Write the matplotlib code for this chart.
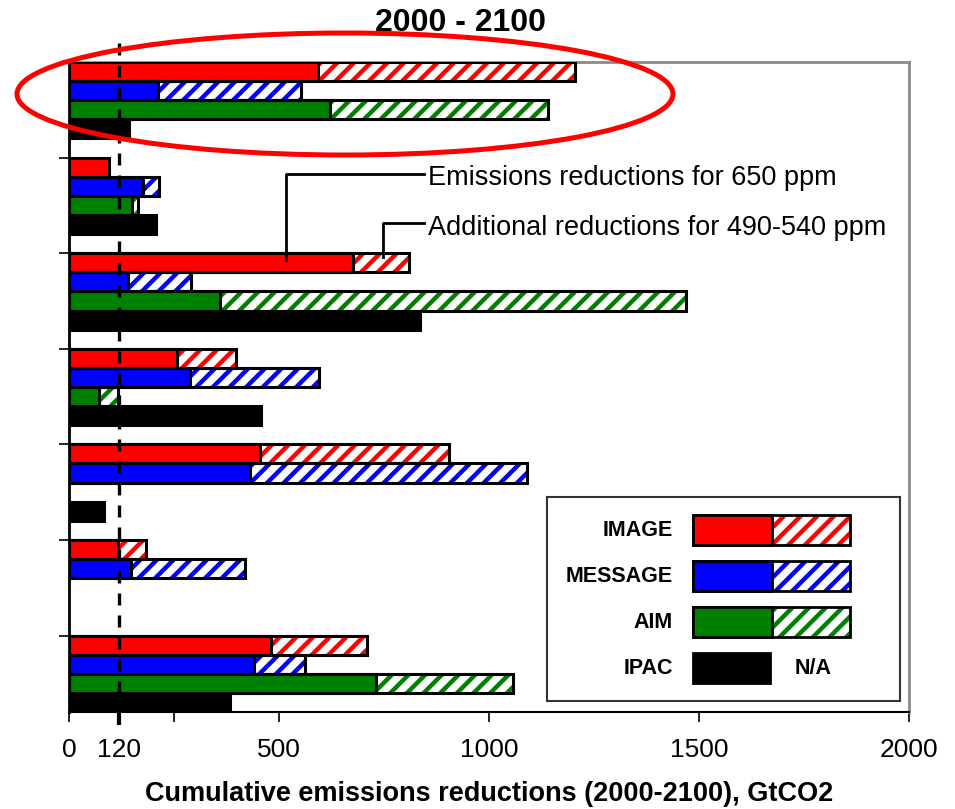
import numpy as np
import matplotlib
matplotlib.use("Agg")
import matplotlib.pyplot as plt
from matplotlib.patches import Rectangle, Ellipse
from matplotlib.transforms import Affine2D

plt.rcParams['font.family'] = ['Liberation Sans', 'DejaVu Sans']
plt.rcParams['hatch.linewidth'] = 3.2

# Cumulative emissions reductions 2000-2100 (GtCO2), seven cases, top to bottom.
# *_650: reductions for 650 ppm; *_add: additional reductions for 490-540 ppm.
nan = np.nan
image_650 = [593, 95, 677, 258, 454, 117, 482]
image_add = [612, 0, 133, 140, 451, 67, 227]
message_650 = [212, 177, 140, 287, 431, 148, 441]
message_add = [340, 38, 150, 308, 659, 271, 122]
aim_650 = [621, 149, 360, 71, nan, nan, 730]
aim_add = [519, 16, 1109, 46, nan, nan, 328]
ipac_650 = [143, 207, 836, 457, 83, nan, 384]

models = ["IMAGE", "MESSAGE", "AIM", "IPAC"]
colors = ["#ff0000", "#0000ff", "#008000", "#000000"]
reference_level = 120

xticks = [0, 120, 250, 500, 1000, 1500, 2000]
xticklabels = ["0", "120", "", "500", "1000", "1500", "2000"]

W, H = 955, 809
fig = plt.figure(figsize=(W / 100, H / 100), dpi=100)
ax = fig.add_axes([69 / W, (H - 712) / H, 840 / W, 650 / H])

n_groups = len(image_650)
slots = 5
series = [(image_650, image_add), (message_650, message_add),
          (aim_650, aim_add), (ipac_650, None)]

for m, (base, add) in enumerate(series):
    for g in range(n_groups):
        b = base[g]
        if b is None or np.isnan(b):
            continue
        y = slots * g + m + 0.5
        a = 0.0 if add is None else add[g]
        if a and not np.isnan(a) and a > 0:
            ax.barh(y, a, left=b, height=1.0, color="white",
                    edgecolor=colors[m], hatch="//", linewidth=0, zorder=2)
            ax.barh(y, b + a, height=1.0, fill=False, edgecolor="black",
                    linewidth=2.2, zorder=4)
        ax.barh(y, b, height=1.0, color=colors[m], edgecolor="black",
                linewidth=2.2, zorder=3)

ax.set_xlim(0, 2000)
ax.set_ylim(slots * (n_groups - 1) + 4, 0)

# 120 GtCO2 reference line
ax.plot([reference_level, reference_level], [-1.0, slots * (n_groups - 1) + 4],
        color="black", linewidth=2.4, linestyle=(0, (3.6, 3.0)),
        clip_on=False, zorder=6)

ax.set_xticks(xticks)
ax.set_xticklabels(xticklabels, fontsize=19)
ax.tick_params(axis="x", direction="out", length=7.5, width=1.2, pad=11)
ax.set_yticks([slots * g for g in range(1, n_groups)])
ax.set_yticklabels([])
ax.tick_params(axis="y", direction="out", length=7.5, width=1.2)
t120 = ax.xaxis.get_major_ticks()[1]
t120.tick1line.set_markeredgewidth(3)
t120.tick1line.set_markersize(9.5)

for side in ["top", "right"]:
    ax.spines[side].set_color("#8a8a8a")
    ax.spines[side].set_linewidth(2)
ax.spines["left"].set_linewidth(2)
ax.spines["bottom"].set_linewidth(1.5)

ax.set_xlabel("Cumulative emissions reductions (2000-2100), GtCO2",
              fontsize=19.5, fontweight="bold", labelpad=14)
fig.text(460 / W, 1 - 23 / H, "2000 - 2100", fontsize=23, fontweight="bold",
         ha="center", va="center")

# leader lines to the explanatory notes
ax.plot([845, 517, 517], [5.86, 5.86, 10.36], color="black", lw=2,
        clip_on=False, zorder=7)
ax.plot([845, 748, 748], [8.4, 8.4, 10.2], color="black", lw=2,
        clip_on=False, zorder=7)
ax.text(855, 6.43, "Emissions reductions for 650 ppm", fontsize=19.5,
        ha="left", va="baseline")
ax.text(855, 9.05, "Additional reductions for 490-540 ppm", fontsize=19.5,
        ha="left", va="baseline")

# key box
lax = fig.add_axes([547 / W, (H - 701) / H, 353 / W, 204 / H])
lax.set_xlim(547, 900)
lax.set_ylim(701, 497)
lax.set_xticks([])
lax.set_yticks([])
for s in lax.spines.values():
    s.set_color("#333333")
    s.set_linewidth(1.5)
rows = [530, 576, 622, 668]
for m, yc in enumerate(rows):
    lax.text(673, yc, models[m], fontsize=15.5, fontweight="bold",
             ha="right", va="center")
    if m < 3:
        lax.add_patch(Rectangle((772, yc - 15), 78, 30, facecolor="white",
                                edgecolor=colors[m], hatch="//", linewidth=0))
        lax.add_patch(Rectangle((693, yc - 15), 157, 30, fill=False,
                                edgecolor="black", linewidth=2))
        lax.add_patch(Rectangle((693, yc - 15), 79, 30, facecolor=colors[m],
                                edgecolor="black", linewidth=2))
    else:
        lax.add_patch(Rectangle((693, yc - 15), 77, 30, facecolor="black",
                                edgecolor="black", linewidth=2))
        lax.text(813, yc, "N/A", fontsize=15.5, fontweight="bold",
                 ha="center", va="center")

# highlight around the first case
px = Affine2D().scale(1 / W, -1 / H).translate(0, 1) + fig.transFigure
fig.add_artist(Ellipse((345, 94), 656, 122, fill=False, edgecolor="#ff0000",
                       linewidth=3.6, transform=px, zorder=10))

fig.savefig("out.png", dpi=100)
